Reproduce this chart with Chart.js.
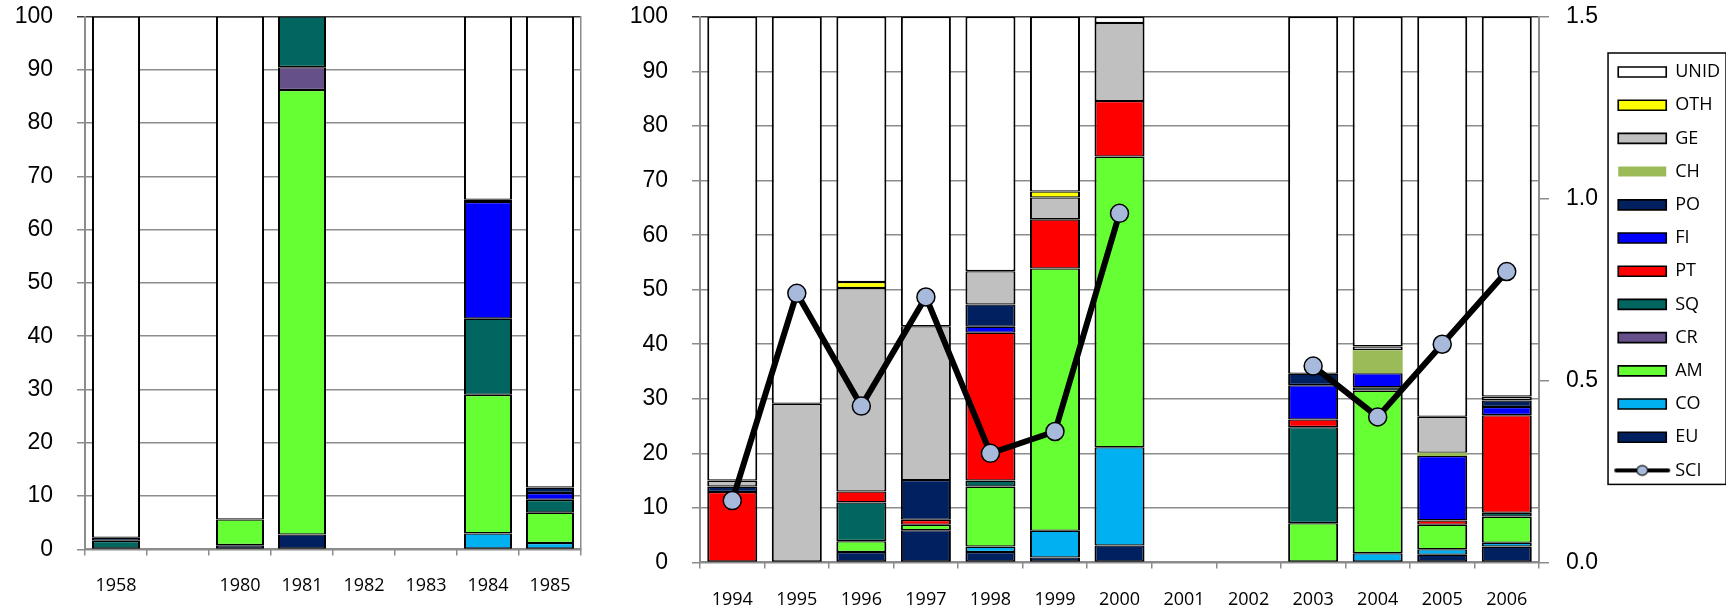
<!DOCTYPE html>
<html>

<head>
    <title>Diet composition and SCI</title>
    <script src="https://cdn.jsdelivr.net/npm/chart.js@4.4.0/dist/chart.umd.min.js"></script>

    <style type="text/css">
        html,
        body {
            margin: 0;
            padding: 0;
            background-color: #ffffff;
            overflow: hidden;
        }

        #boxEarly {
            position: absolute;
            left: 0;
            top: 0;
            width: 600px;
            height: 617px;
        }

        #boxLate {
            position: absolute;
            left: 600px;
            top: 0;
            width: 1130px;
            height: 632px;
        }
    </style>
</head>

<body>
    <div id="boxEarly"><canvas id="chartEarly" width="600" height="617"></canvas></div>
    <div id="boxLate"><canvas id="chartLate" width="1130" height="632"></canvas></div>

    <script>
        // ---- early years (left panel) ----
        var yearsEarly = ['1958', '', '1980', '1981', '1982', '1983', '1984', '1985'];
        var euEarly   = [null, null, 0.8, 2.8, null, null, null, null];
        var coEarly   = [null, null, null, null, null, null, 3.0, 1.2];
        var amEarly   = [null, null, 4.8, 83.4, null, null, 26.0, 5.7];
        var crEarly   = [null, null, null, 4.3, null, null, null, null];
        var sqEarly   = [1.6, null, null, 9.5, null, null, 14.3, 2.4];
        var ptEarly   = [null, null, null, null, null, null, null, null];
        var fiEarly   = [null, null, null, null, null, null, 21.9, 1.3];
        var poEarly   = [0.6, null, null, null, null, null, 0.4, 1.0];
        var chEarly   = [null, null, null, null, null, null, null, null];
        var geEarly   = [null, null, null, null, null, null, null, null];
        var othEarly  = [null, null, null, null, null, null, null, null];
        var unidEarly = [97.8, null, 94.4, null, null, null, 34.4, 88.4];

        // ---- 1994-2006 (right panel) ----
        var yearsLate = ['1994', '1995', '1996', '1997', '1998', '1999', '2000', '2001', '2002', '2003', '2004', '2005', '2006'];
        var euLate   = [null, null, 1.9, 5.9, 1.9, 0.9, 3.1, null, null, null, null, 1.4, 2.9];
        var coLate   = [null, null, null, null, 1.0, 4.9, 18.0, null, null, null, 1.7, 1.0, 0.7];
        var amLate   = [null, null, 2.0, 1.0, 11.0, 48.1, 53.3, null, null, 7.2, 29.8, 4.5, 4.8];
        var crLate   = [null, null, null, null, null, null, null, null, null, null, null, null, null];
        var sqLate   = [null, null, 7.1, null, 1.1, null, null, null, null, 17.6, 0.6, null, 0.7];
        var ptLate   = [12.9, null, 2.0, 0.9, 27.1, 9.0, 10.2, null, null, 1.4, null, 0.8, 17.9];
        var fiLate   = [null, null, null, null, 1.1, null, null, null, null, 6.3, 2.6, 11.8, 1.5];
        var poLate   = [1.0, null, null, 7.3, 4.1, null, null, null, null, 2.1, null, null, 1.2];
        var chLate   = [null, null, null, null, null, null, null, null, null, null, 4.2, 0.6, null];
        var geLate   = [1.1, 29.1, 37.3, 28.2, 6.1, 4.0, 14.3, null, null, null, 0.7, 6.6, 0.7];
        var othLate  = [null, null, 1.1, null, null, 1.1, null, null, null, null, null, null, null];
        var unidLate = [85.0, 70.9, 48.6, 56.7, 46.6, 32.0, 1.1, null, null, 65.4, 60.4, 73.3, 69.6];
        var sciLate  = [0.17, 0.74, 0.43, 0.73, 0.30, 0.36, 0.96, null, null, 0.54, 0.40, 0.60, 0.80];

        // stacking order, bottom to top
        var seriesNames = ['EU', 'CO', 'AM', 'CR', 'SQ', 'PT', 'FI', 'PO', 'CH', 'GE', 'OTH', 'UNID'];
        var seriesFill = {
            EU: '#002060', CO: '#00B0F0', AM: '#66FF33', CR: '#65508A',
            SQ: '#00665F', PT: '#FF0000', FI: '#0000FF', PO: '#002060',
            CH: '#9BBB59', GE: '#C0C0C0', OTH: '#FFFF00', UNID: '#FFFFFF'
        };

        var gridGray = '#8c8c8c';
        var yFont = { family: "'Liberation Sans', Arial, sans-serif", size: 23 };
        var xFont = { family: "'Open Sans', sans-serif", size: 18 };
        var legendFont = { family: "'Open Sans', sans-serif", size: 18 };

        function stackSets(values) {
            return seriesNames.map(function (name, i) {
                var edge = name === 'CH' ? 0 : { top: 1.3, bottom: 1.3, left: 2, right: 2 };
                return {
                    type: 'bar',
                    label: name,
                    data: values[i],
                    backgroundColor: seriesFill[name],
                    borderColor: '#000000',
                    borderWidth: edge,
                    borderSkipped: false,
                    pointStyle: 'rect',
                    categoryPercentage: 1.0,
                    barPercentage: 0.775,
                    yAxisID: 'y'
                };
            });
        }

        function topLineColor(ctx) {
            return ctx.tick && ctx.tick.value === 100 ? '#3c3c3c' : gridGray;
        }

        function xScale(pad) {
            return {
                stacked: true,
                offset: true,
                grid: { offset: true, drawOnChartArea: false, tickLength: 6, color: gridGray, lineWidth: 1.5 },
                border: { color: gridGray, width: 2 },
                ticks: { color: '#000', font: xFont, padding: pad, maxRotation: 0, autoSkip: false }
            };
        }

        // labels sit 32px left of the axis; only the last 8px of that is a visible tick mark
        function percentScale(width) {
            return {
                stacked: true,
                min: 0,
                max: 100,
                afterFit: function (scale) { scale.width = width; },
                ticks: { stepSize: 10, color: '#000', font: yFont, padding: 0 },
                grid: {
                    color: topLineColor,
                    lineWidth: 1.5,
                    tickLength: 32,
                    tickBorderDash: [0, 24, 8, 100]
                },
                border: { color: gridGray, width: 2 }
            };
        }

        // legend icon for the SCI line: thick stroke with a marker
        function sciIcon() {
            var c = document.createElement('canvas');
            c.width = 58;
            c.height = 14;
            var g = c.getContext('2d');
            g.strokeStyle = '#000';
            g.lineWidth = 4;
            g.lineCap = 'round';
            g.beginPath();
            g.moveTo(3, 7);
            g.lineTo(55, 7);
            g.stroke();
            g.beginPath();
            g.ellipse(29, 7, 5.5, 4.8, 0, 0, Math.PI * 2);
            g.fillStyle = '#A8BADB';
            g.fill();
            g.lineWidth = 1.2;
            g.stroke();
            return c;
        }

        var legendFrame = {
            id: 'legendFrame',
            afterDraw: function (chart) {
                var lg = chart.legend;
                var boxes = lg && lg.legendHitBoxes;
                if (!boxes || !boxes.length) {
                    return;
                }
                var first = boxes[0];
                var last = boxes[boxes.length - 1];
                var x0 = lg.left + 5;
                var y0 = first.top - 10;
                var y1 = last.top + last.height + 5;
                var g = chart.ctx;
                g.save();
                g.strokeStyle = '#000';
                g.lineWidth = 1.5;
                g.strokeRect(x0, y0, 118, y1 - y0);
                g.restore();
            }
        };

        window.onload = function () {
            var sciMark = sciIcon();

            new Chart(document.getElementById('chartEarly').getContext('2d'), {
                data: {
                    labels: yearsEarly,
                    datasets: stackSets([euEarly, coEarly, amEarly, crEarly, sqEarly, ptEarly, fiEarly,
                        poEarly, chEarly, geEarly, othEarly, unidEarly])
                },
                options: {
                    responsive: false,
                    animation: false,
                    layout: { padding: { top: 16.5, bottom: 0, left: 0, right: 0 } },
                    plugins: { legend: { display: false }, tooltip: { enabled: false } },
                    scales: {
                        x: xScale(20),
                        y: percentScale(85),
                        yr: {
                            position: 'right',
                            min: 0,
                            max: 100,
                            afterFit: function (scale) { scale.width = 19; },
                            ticks: { display: false },
                            grid: { drawOnChartArea: false, drawTicks: false },
                            border: { color: gridGray, width: 1.5 }
                        }
                    }
                }
            });

            var lateSets = stackSets([euLate, coLate, amLate, crLate, sqLate, ptLate, fiLate,
                poLate, chLate, geLate, othLate, unidLate]);
            lateSets.unshift({
                type: 'line',
                label: 'SCI',
                data: sciLate,
                yAxisID: 'y1',
                borderColor: '#000',
                borderWidth: 6,
                tension: 0,
                spanGaps: false,
                pointRadius: 9,
                pointBackgroundColor: '#A8BADB',
                pointBorderColor: '#000',
                pointBorderWidth: 1.5
            });

            new Chart(document.getElementById('chartLate').getContext('2d'), {
                data: { labels: yearsLate, datasets: lateSets },
                plugins: [legendFrame],
                options: {
                    responsive: false,
                    animation: false,
                    layout: { padding: { top: 17, bottom: 0, left: 0, right: 0 } },
                    plugins: {
                        tooltip: { enabled: false },
                        legend: {
                            position: 'right',
                            align: 'start',
                            reverse: true,
                            title: { display: true, text: '', font: { size: 10 }, padding: { top: 0, bottom: 18.8 } },
                            labels: {
                                usePointStyle: true,
                                pointStyleWidth: 48,
                                boxHeight: 10,
                                padding: 15.2,
                                color: '#000',
                                font: legendFont,
                                generateLabels: function (chart) {
                                    var items = Chart.defaults.plugins.legend.labels.generateLabels(chart);
                                    items.forEach(function (item) {
                                        if (item.text === 'SCI') {
                                            item.pointStyle = sciMark;
                                        }
                                    });
                                    return items;
                                }
                            }
                        }
                    },
                    scales: {
                        x: xScale(21),
                        y: percentScale(100),
                        y1: {
                            position: 'right',
                            min: 0,
                            max: 1.5,
                            afterFit: function (scale) { scale.width = 64; },
                            ticks: {
                                stepSize: 0.5,
                                color: '#000',
                                font: yFont,
                                padding: 0,
                                callback: function (v) { return Number(v).toFixed(1); }
                            },
                            grid: {
                                drawOnChartArea: false,
                                tickLength: 27,
                                tickBorderDash: [9, 100],
                                color: gridGray,
                                lineWidth: 1.5
                            },
                            border: { color: gridGray, width: 2 }
                        }
                    }
                }
            });
        };
    </script>
</body>

</html>
